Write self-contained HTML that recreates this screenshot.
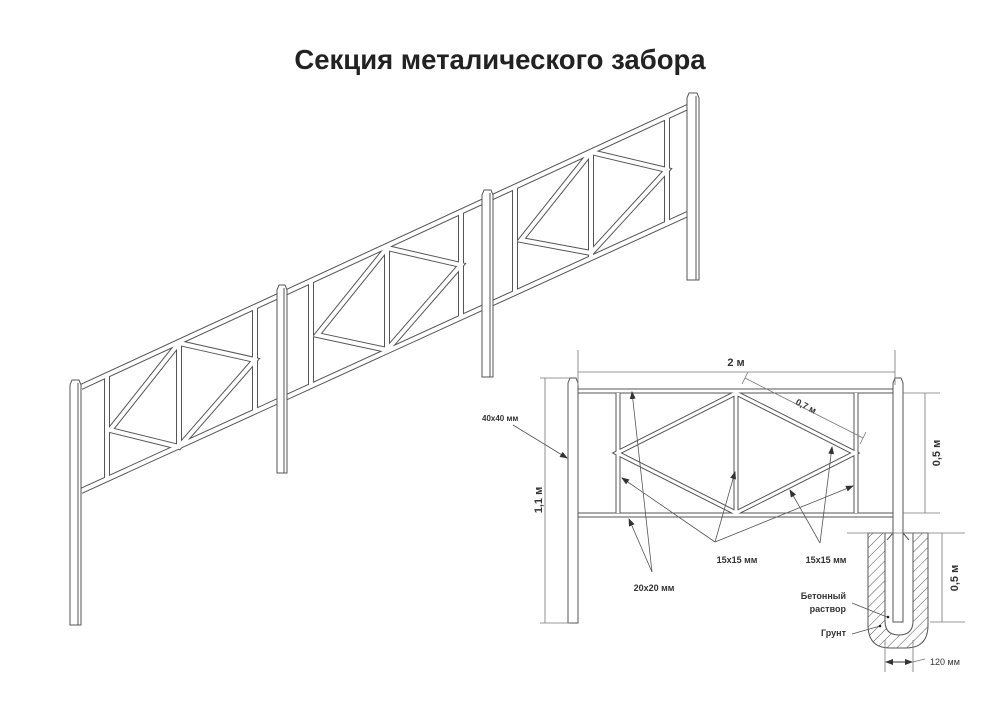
<!DOCTYPE html>
<html><head><meta charset="utf-8"><style>
html,body{margin:0;padding:0;background:#fff;}
svg{display:block;font-family:"Liberation Sans",sans-serif;}
.m{fill:none;stroke:#555;stroke-width:6;stroke-linejoin:miter}
.w{fill:none;stroke:#fff;stroke-width:4}
.d{fill:none;stroke:#777;stroke-width:0.8}
.t{font-size:9px;font-weight:bold;fill:#333}
</style></head><body>
<svg width="1000" height="707" viewBox="0 0 1000 707">
<defs>
<pattern id="h" width="7" height="7" patternUnits="userSpaceOnUse" patternTransform="rotate(45)">
<line x1="0" y1="0" x2="0" y2="7" stroke="#555" stroke-width="1"/></pattern>
<marker id="a" markerWidth="8" markerHeight="6" refX="7" refY="3" orient="auto" markerUnits="userSpaceOnUse"><path d="M0,0 L8,3 L0,6 z" fill="#333"/></marker>
</defs>
<text x="500" y="69" text-anchor="middle" font-size="27.5" font-weight="bold" fill="#222">Секция металического забора</text>

<g id="pf">
<path class="m" d="M81,387 L692,105 M81,491 L692,212
M107,375 V479 M255,307 V411 M179,342 V446
M110,430 L179,343 L255,360 L179,447 Z
M311,281 V386 M461,211 V317 M387,246 V351
M317,335 L387,248 L461,265 L387,350 Z
M515,186 V293 M667,116 V223 M591,151 V258
M521,240 L591,152 L667,170 L591,253 Z"/>
<path class="w" d="M81,387 L692,105 M81,491 L692,212
M107,375 V479 M255,307 V411 M179,342 V446
M110,430 L179,343 L255,360 L179,447 Z
M311,281 V386 M461,211 V317 M387,246 V351
M317,335 L387,248 L461,265 L387,350 Z
M515,186 V293 M667,116 V223 M591,151 V258
M521,240 L591,152 L667,170 L591,253 Z"/>
</g>
<g fill="#fff" stroke="#555" stroke-width="1">
<path d="M70,625 V385 L72,380 H79 L81,385 V625 Z"/><line x1="78" y1="383" x2="78" y2="625"/>
<path d="M277,473 V290 L279,285 H285 L287,290 V473 Z"/><line x1="284" y1="288" x2="284" y2="473"/>
<path d="M482,377 V195 L484,190 H491 L493,195 V377 Z"/><line x1="490" y1="193" x2="490" y2="377"/>
<path d="M687,280 V98 L689,93 H697 L699,98 V280 Z"/><line x1="696" y1="96" x2="696" y2="280"/>
</g>

<g>
<path class="m" d="M578,391 H893 M578,515 H893 M618,393 V513 M856,393 V513 M736,393 V513 M736,393 L617,453 L736,513 L855,453 Z" style="stroke-width:5"/>
<path class="w" d="M578,391 H893 M578,515 H893 M618,393 V513 M856,393 V513 M736,393 V513 M736,393 L617,453 L736,513 L855,453 Z" style="stroke-width:3"/>
<path d="M868,533 H928 V625 Q928,648 906,648 H890 Q868,648 868,625 Z" fill="url(#h)" stroke="#555" stroke-width="1"/>
<path d="M885,533 H913 V621 Q913,635 899,635 Q885,635 885,621 Z" fill="#fff" stroke="#555" stroke-width="1"/>
<path d="M568,623 V383 L570,378 H576 L578,383 V623 Z" fill="#fff" stroke="#555" stroke-width="1"/>
<path d="M893,622 V383 L895,378 H901 L903,383 V622 Z" fill="#fff" stroke="#555" stroke-width="1"/>
<path d="M887,540 L893,533 M909,540 L903,533" stroke="#555" fill="none"/>
<path class="d" d="M578,350 V385 M895,350 V385 M578,372 H895
M540,378 H570 M540,623 H570 M545,378 V623
M903,393 H940 M903,513 H940 M925,393 V513
M847,533 H965 M930,622 H965 M942,533 V622
M885,640 V672 M913,640 V672
M745,378 L863,438 M742,384 L748,372 M860,444 L866,432"/>
<line x1="886" y1="662" x2="912" y2="662" stroke="#333"/>
<path d="M885,662 L893,659 L893,665 Z" fill="#333"/>
<path d="M913,662 L905,659 L905,665 Z" fill="#333"/>
<line x1="913" y1="662" x2="925" y2="659" stroke="#777" stroke-width="0.8"/>
<g stroke="#555" stroke-width="0.8" fill="none">
<path d="M513,425 L567,458" marker-end="url(#a)"/>
<path d="M715,542 L622,478" marker-end="url(#a)"/>
<path d="M715,542 L735,472" marker-end="url(#a)"/>
<path d="M715,542 L853,486" marker-end="url(#a)"/>
<path d="M820,543 L790,490" marker-end="url(#a)"/>
<path d="M820,543 L832,447" marker-end="url(#a)"/>
<path d="M652,572 L632,392" marker-end="url(#a)"/>
<path d="M652,572 L629,519" marker-end="url(#a)"/>
<path d="M852,603 L887,617"/>
<path d="M852,634 L880,626"/>
</g>
<circle cx="888" cy="617" r="1.3" fill="#222"/><circle cx="880" cy="626" r="1.3" fill="#222"/>
<text x="736" y="366" text-anchor="middle" font-size="11" font-weight="bold" fill="#333">2 м</text>
<text class="t" font-size="10" transform="translate(795,404) rotate(27)">0,7 м</text>
<text font-size="11" font-weight="bold" fill="#333" text-anchor="middle" transform="translate(940,453) rotate(-90)">0,5 м</text>
<text font-size="11" font-weight="bold" fill="#333" text-anchor="middle" transform="translate(958,578) rotate(-90)">0,5 м</text>
<text font-size="11" font-weight="bold" fill="#333" text-anchor="middle" transform="translate(542,500) rotate(-90)">1,1 м</text>
<text class="t" x="482" y="421" style="font-size:8px">40x40 мм</text>
<text class="t" x="737" y="563" text-anchor="middle">15x15 мм</text>
<text class="t" x="826" y="563" text-anchor="middle">15x15 мм</text>
<text class="t" x="654" y="591" text-anchor="middle">20x20 мм</text>
<text class="t" x="846" y="599" text-anchor="end">Бетонный</text>
<text class="t" x="846" y="612" text-anchor="end">раствор</text>
<text class="t" x="846" y="636" text-anchor="end">Грунт</text>
<text class="t" x="930" y="665" style="font-weight:normal">120 мм</text>
</g>
</svg>
</body></html>
